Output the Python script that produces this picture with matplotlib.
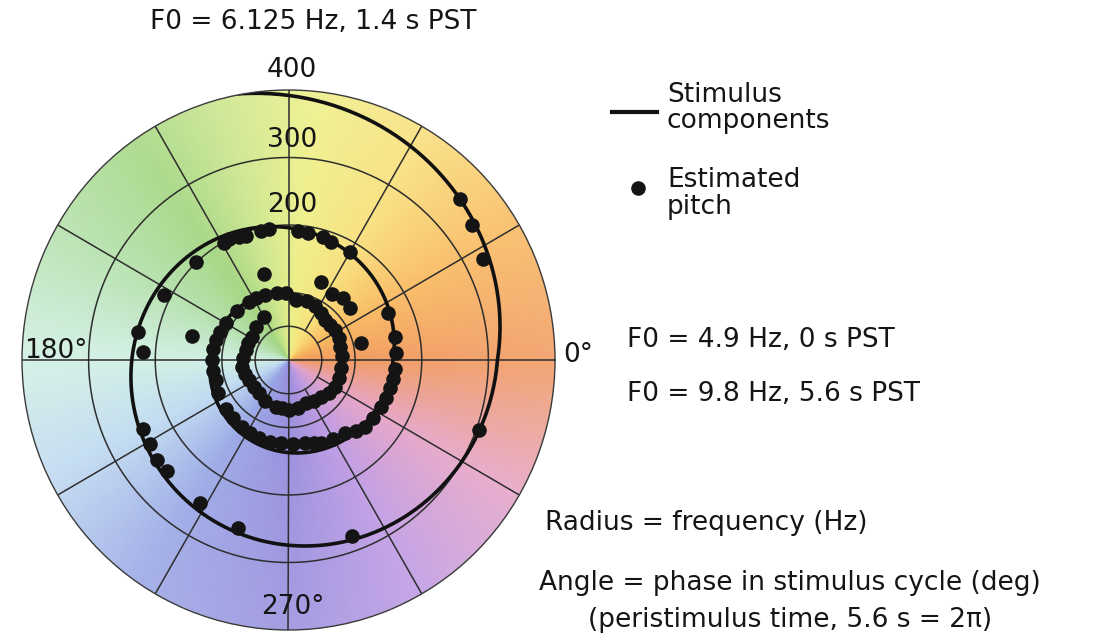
import numpy as np
import matplotlib.pyplot as plt

W, H = 1101, 642

# F0 sweep over one stimulus cycle (phase in deg, F0 in Hz)
sweep_phase = [0, 90, 180, 270, 360]
sweep_f0 = [4.9, 6.125, 7.35, 8.575, 9.8]
# stimulus components = harmonics of F0
harmonics = [16, 32, 64]

# estimated pitch: phase (deg), frequency (Hz)
pitch_phase = [
    # outer
    42.8, 36, 27, 340, 290, 253, 238, 205, 211, 217, 222,
    # top / left arc
    177, 169.5, 152.5, 133.5, 119, 116.6, 112, 109, 102, 98.7, 85.5, 81, 74, 70, 60,
    106, 166, 67, 48, 13, 56, 40,
    # middle band
    25, 12, 3.7, 355, 350, 345, 339, 333, 326, 319, 314, 308, 300, 292, 287, 281.5, 273,
    265, 257, 249, 242, 235, 226, 218, 205, 195, 188, 180, 172, 165, 158, 150, 137, 125,
    118, 110, 100, 92, 83,
    # inner band
    72, 63, 55, 47, 40, 32, 23, 14, 4, 352, 341, 330, 321, 312, 302, 292, 281, 270,
    262, 255, 240, 228, 218, 207, 198, 189, 178, 167, 158, 148, 135, 120,
]
pitch_hz = [
    351, 341, 328, 304, 277, 260, 250, 241, 242, 247, 245,
    219, 229, 210, 201, 199, 200, 197, 194, 195, 196, 191, 190, 189, 186, 184,
    132, 149, 125, 123, 112, 118, 120,
    164, 163, 161, 161, 160, 158, 156, 155, 153, 152, 146, 138, 135, 132, 129, 126, 125,
    124, 124, 123, 122, 122, 120, 119, 116, 113, 114, 115, 114, 113, 111, 109, 106, 104,
    104, 103, 101, 100, 90,
    92, 89, 85, 81, 81, 83, 82, 80, 80, 80, 80, 81, 78, 74, 72, 69, 72, 74,
    72, 72, 70, 66, 66, 66, 68, 70, 68, 66, 66, 65, 70, 74,
]

grid_radii = [50, 100, 200, 300]
spoke_angles = list(range(0, 360, 30))

# background hue wheel
hue_deg = [0, 30, 60, 85, 105, 125, 150, 180, 205, 235, 270, 300, 330, 360]
hue_rgb = [(240, 150, 90), (248, 182, 90), (248, 222, 118), (236, 238, 130),
           (200, 228, 135), (160, 212, 124), (176, 222, 166), (206, 238, 226),
           (188, 216, 240), (150, 164, 228), (148, 138, 220), (188, 150, 226),
           (228, 160, 196), (240, 150, 90)]


def px(x, y):
    return x / W, 1 - y / H


fig = plt.figure(figsize=(W / 100, H / 100), dpi=100)
ax = fig.add_axes([22 / W, (H - 630) / H, 533 / W, 540 / H], projection='polar')
ax.set_aspect('auto')
ax.set_ylim(0, 400)
ax.set_xticks([])
ax.set_yticks([])
ax.grid(False)
ax.spines['polar'].set_color('#3a3a3a')
ax.spines['polar'].set_linewidth(1.0)

# colour wheel, a little paler towards the rim
t_edges = np.deg2rad(np.linspace(0, 360, 361))
r_edges = np.linspace(0, 400, 41)
T, R = np.meshgrid(t_edges, r_edges)
t_mid = np.linspace(0.5, 359.5, 360)
r_mid = (r_edges[:-1] + r_edges[1:]) / 2
hue = np.array(hue_rgb) / 255.0
base = np.stack([np.interp(t_mid, hue_deg, hue[:, k]) for k in range(3)], axis=-1)
fade = 0.02 + 0.14 * (r_mid / 400.0)
C = base[None, :, :] * (1 - fade[:, None, None]) + fade[:, None, None]
ax.pcolormesh(T, R, C, shading='flat', zorder=0)

# grid
circ = np.deg2rad(np.linspace(0, 360, 361))
for rr in grid_radii:
    ax.plot(circ, np.full_like(circ, rr), color='#2e2e2e', lw=1.1, zorder=1)
for a in spoke_angles:
    r0 = 0 if a % 90 == 0 else grid_radii[0]
    ax.plot([np.deg2rad(a)] * 2, [r0, 400], color='#2e2e2e', lw=1.1, zorder=1)

# stimulus components
for h in harmonics:
    ln, = ax.plot(np.deg2rad(sweep_phase), h * np.array(sweep_f0),
                  color='#111111', lw=2.6, solid_capstyle='butt', zorder=2)
    ln.get_path()._interpolation_steps = 90

# estimated pitch
ax.plot(np.deg2rad(pitch_phase), pitch_hz, 'o', color='#141414',
        ms=10.5, mec='none', zorder=3)

font = dict(family='DejaVu Sans', size=19, color='#151515')
fig.text(*px(313, 22), 'F0 = 6.125 Hz, 1.4 s PST', ha='center', va='center', **font)
fig.text(*px(292, 70), '400', ha='center', va='center', **font)
fig.text(*px(292, 140), '300', ha='center', va='center', **font)
fig.text(*px(292, 205), '200', ha='center', va='center', **font)
fig.text(*px(24, 351), '180°', ha='left', va='center', **font)
fig.text(*px(293, 607), '270°', ha='center', va='center', **font)
fig.text(*px(563, 355), '0°', ha='left', va='center', **font)
fig.text(*px(627, 340), 'F0 = 4.9 Hz, 0 s PST', ha='left', va='center', **font)
fig.text(*px(627, 394), 'F0 = 9.8 Hz, 5.6 s PST', ha='left', va='center', **font)
fig.text(*px(545, 523), 'Radius = frequency (Hz)', ha='left', va='center', **font)
fig.text(*px(790, 583), 'Angle = phase in stimulus cycle (deg)', ha='center', va='center', **font)
fig.text(*px(790, 620), '(peristimulus time, 5.6 s = 2π)', ha='center', va='center', **font)

# legend
fig.text(*px(667, 108), 'Stimulus\ncomponents', ha='left', va='center', linespacing=1.05, **font)
fig.text(*px(667, 194), 'Estimated\npitch', ha='left', va='center', linespacing=1.05, **font)
fig.add_artist(plt.Line2D([612 / W, 657 / W], [1 - 112 / H] * 2, color='#111111', lw=3))
fig.add_artist(plt.Line2D([638 / W], [1 - 188 / H], marker='o', color='#141414', ms=10.5, mec='none'))

fig.savefig('out.png', dpi=100)
